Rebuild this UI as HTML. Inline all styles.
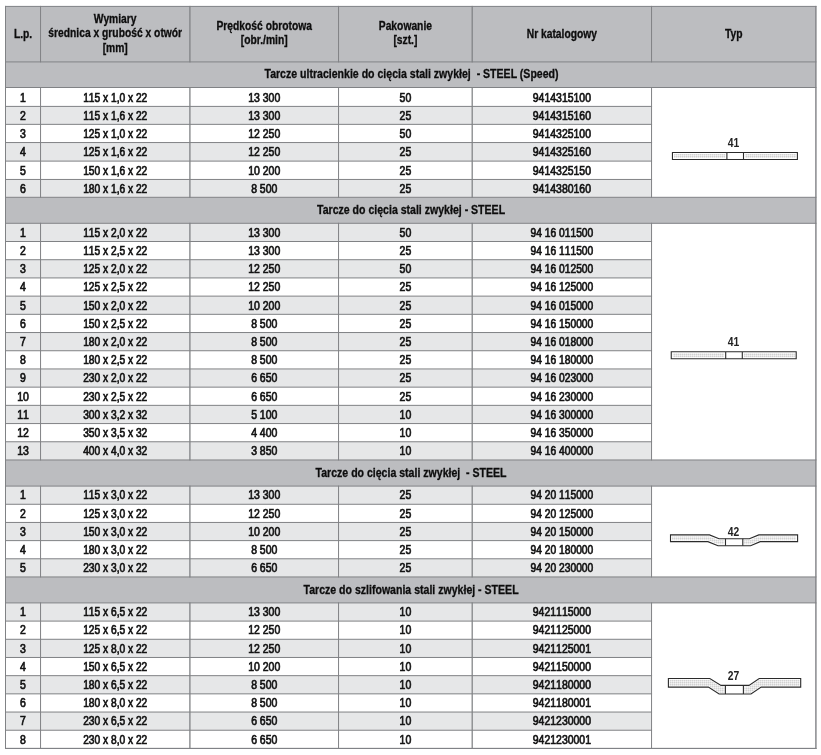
<!DOCTYPE html>
<html lang="pl">
<head>
<meta charset="utf-8">
<title>Tarcze - STEEL</title>
<style>
html,body{margin:0;padding:0;background:#fff;}
body{width:821px;height:755px;overflow:hidden;font-family:"Liberation Sans",sans-serif;}
svg{display:block;position:absolute;left:0;top:0;}
text{font-family:"Liberation Sans",sans-serif;font-size:12px;text-anchor:middle;fill:#141414;white-space:pre;}
text.h{font-weight:bold;fill:#0d0d0d;stroke:#0d0d0d;stroke-width:0.3px;}
text.d{stroke:#141414;stroke-width:0.7px;font-kerning:none;}
text.t{fill:#222;font-weight:bold;font-kerning:none;}
.b{fill:#808285;}
</style>
</head>
<body>
<svg width="821" height="755" viewBox="0 0 821 755" role="img" aria-label="Tabela tarcz">
<defs>
<pattern id="dots" width="2" height="2" patternUnits="userSpaceOnUse"><rect width="2" height="2" fill="#e6e6e6"/><rect width="1" height="1" fill="#d2d2d2"/><rect x="1" y="1" width="1" height="1" fill="#f4f4f4"/></pattern>
</defs>
<rect x="5.5" y="6.4" width="810.4" height="742.02" fill="#fff"/>
<rect x="5.5" y="6.4" width="810.4" height="55.5" fill="#bcbdc0"/>
<rect x="5.5" y="61.9" width="810.4" height="25.6" fill="#bcbdc0"/>
<rect x="5.5" y="106.4" width="646.05" height="17.95" fill="#e6e7e8"/>
<rect x="5.5" y="142.55" width="646.05" height="18.55" fill="#e6e7e8"/>
<rect x="5.5" y="179.45" width="646.05" height="17.85" fill="#e6e7e8"/>
<rect x="5.5" y="197.3" width="810.4" height="26" fill="#bcbdc0"/>
<rect x="5.5" y="223.3" width="646.05" height="18.2" fill="#e6e7e8"/>
<rect x="5.5" y="259.71" width="646.05" height="18.2" fill="#e6e7e8"/>
<rect x="5.5" y="296.12" width="646.05" height="18.2" fill="#e6e7e8"/>
<rect x="5.5" y="332.53" width="646.05" height="18.21" fill="#e6e7e8"/>
<rect x="5.5" y="368.94" width="646.05" height="18.2" fill="#e6e7e8"/>
<rect x="5.5" y="405.35" width="646.05" height="18.2" fill="#e6e7e8"/>
<rect x="5.5" y="441.76" width="646.05" height="18.2" fill="#e6e7e8"/>
<rect x="5.5" y="460" width="810.4" height="26.1" fill="#bcbdc0"/>
<rect x="5.5" y="486.1" width="646.05" height="18.17" fill="#e6e7e8"/>
<rect x="5.5" y="522.44" width="646.05" height="18.17" fill="#e6e7e8"/>
<rect x="5.5" y="558.78" width="646.05" height="18.17" fill="#e6e7e8"/>
<rect x="5.5" y="576.95" width="810.4" height="25.95" fill="#bcbdc0"/>
<rect x="5.5" y="602.9" width="646.05" height="18.19" fill="#e6e7e8"/>
<rect x="5.5" y="639.28" width="646.05" height="18.19" fill="#e6e7e8"/>
<rect x="5.5" y="675.66" width="646.05" height="18.19" fill="#e6e7e8"/>
<rect x="5.5" y="712.04" width="646.05" height="18.19" fill="#e6e7e8"/>
<rect class="b" x="5" y="5.9" width="811.4" height="1"/>
<rect class="b" x="5" y="61.4" width="811.4" height="1"/>
<rect class="b" x="5" y="747.92" width="811.4" height="1"/>
<rect class="b" x="40.05" y="5.9" width="1" height="56.5"/>
<rect class="b" x="189.25" y="5.9" width="1.3" height="56.5"/>
<rect class="b" x="338.05" y="5.9" width="1" height="56.5"/>
<rect class="b" x="471.57" y="5.9" width="1.25" height="56.5"/>
<rect class="b" x="651.05" y="5.9" width="1" height="56.5"/>
<rect class="b" x="5" y="5.9" width="1" height="743.02"/>
<rect class="b" x="815.2" y="5.9" width="1.4" height="743.02"/>
<rect class="b" x="5" y="87" width="811.4" height="1"/>
<rect class="b" x="5" y="105.9" width="647.05" height="1"/>
<rect class="b" x="5" y="123.85" width="647.05" height="1"/>
<rect class="b" x="5" y="142.05" width="647.05" height="1"/>
<rect class="b" x="5" y="160.6" width="647.05" height="1"/>
<rect class="b" x="5" y="178.95" width="647.05" height="1"/>
<rect class="b" x="5" y="196.8" width="811.4" height="1"/>
<rect class="b" x="40.05" y="87" width="1" height="110.8"/>
<rect class="b" x="189.25" y="87" width="1.3" height="110.8"/>
<rect class="b" x="338.05" y="87" width="1" height="110.8"/>
<rect class="b" x="471.57" y="87" width="1.25" height="110.8"/>
<rect class="b" x="651.05" y="87" width="1" height="110.8"/>
<rect class="b" x="5" y="222.8" width="811.4" height="1"/>
<rect class="b" x="5" y="241" width="647.05" height="1"/>
<rect class="b" x="5" y="259.21" width="647.05" height="1"/>
<rect class="b" x="5" y="277.42" width="647.05" height="1"/>
<rect class="b" x="5" y="295.62" width="647.05" height="1"/>
<rect class="b" x="5" y="313.82" width="647.05" height="1"/>
<rect class="b" x="5" y="332.03" width="647.05" height="1"/>
<rect class="b" x="5" y="350.24" width="647.05" height="1"/>
<rect class="b" x="5" y="368.44" width="647.05" height="1"/>
<rect class="b" x="5" y="386.64" width="647.05" height="1"/>
<rect class="b" x="5" y="404.85" width="647.05" height="1"/>
<rect class="b" x="5" y="423.06" width="647.05" height="1"/>
<rect class="b" x="5" y="441.26" width="647.05" height="1"/>
<rect class="b" x="5" y="459.46" width="811.4" height="1"/>
<rect class="b" x="40.05" y="222.8" width="1" height="237.66"/>
<rect class="b" x="189.25" y="222.8" width="1.3" height="237.66"/>
<rect class="b" x="338.05" y="222.8" width="1" height="237.66"/>
<rect class="b" x="471.57" y="222.8" width="1.25" height="237.66"/>
<rect class="b" x="651.05" y="222.8" width="1" height="237.66"/>
<rect class="b" x="5" y="485.6" width="811.4" height="1"/>
<rect class="b" x="5" y="503.77" width="647.05" height="1"/>
<rect class="b" x="5" y="521.94" width="647.05" height="1"/>
<rect class="b" x="5" y="540.11" width="647.05" height="1"/>
<rect class="b" x="5" y="558.28" width="647.05" height="1"/>
<rect class="b" x="5" y="576.45" width="811.4" height="1"/>
<rect class="b" x="40.05" y="485.6" width="1" height="91.85"/>
<rect class="b" x="189.25" y="485.6" width="1.3" height="91.85"/>
<rect class="b" x="338.05" y="485.6" width="1" height="91.85"/>
<rect class="b" x="471.57" y="485.6" width="1.25" height="91.85"/>
<rect class="b" x="651.05" y="485.6" width="1" height="91.85"/>
<rect class="b" x="5" y="602.4" width="811.4" height="1"/>
<rect class="b" x="5" y="620.59" width="647.05" height="1"/>
<rect class="b" x="5" y="638.78" width="647.05" height="1"/>
<rect class="b" x="5" y="656.97" width="647.05" height="1"/>
<rect class="b" x="5" y="675.16" width="647.05" height="1"/>
<rect class="b" x="5" y="693.35" width="647.05" height="1"/>
<rect class="b" x="5" y="711.54" width="647.05" height="1"/>
<rect class="b" x="5" y="729.73" width="647.05" height="1"/>
<rect class="b" x="5" y="747.92" width="811.4" height="1"/>
<rect class="b" x="40.05" y="602.4" width="1" height="146.52"/>
<rect class="b" x="189.25" y="602.4" width="1.3" height="146.52"/>
<rect class="b" x="338.05" y="602.4" width="1" height="146.52"/>
<rect class="b" x="471.57" y="602.4" width="1.25" height="146.52"/>
<rect class="b" x="651.05" y="602.4" width="1" height="146.52"/>
<text class="h" transform="translate(23.02 37.55) scale(0.858 1)">L.p.</text>
<text class="h" transform="translate(115.22 22.8) scale(0.858 1)">Wymiary</text>
<text class="h" transform="translate(115.22 37.4) scale(0.858 1)">średnica x grubość x otwór</text>
<text class="h" transform="translate(115.22 52) scale(0.858 1)">[mm]</text>
<text class="h" transform="translate(264.23 29.7) scale(0.858 1)">Prędkość obrotowa</text>
<text class="h" transform="translate(264.23 44) scale(0.858 1)">[obr./min]</text>
<text class="h" transform="translate(405.38 29.7) scale(0.858 1)">Pakowanie</text>
<text class="h" transform="translate(405.38 44) scale(0.858 1)">[szt.]</text>
<text class="h" transform="translate(561.88 37.55) scale(0.858 1)">Nr katalogowy</text>
<text class="h" transform="translate(733.72 37.55) scale(0.858 1)">Typ</text>
<text class="h" transform="translate(411.5 78.4) scale(0.88 1)">Tarcze ultracienkie do cięcia stali zwykłej  - STEEL (Speed)</text>
<text class="d" transform="translate(23.02 102) scale(0.875 1)">1</text>
<text class="d" transform="translate(115.22 102) scale(0.852 1)">115 x 1,0 x 22</text>
<text class="d" transform="translate(264.23 102) scale(0.873 1)">13 300</text>
<text class="d" transform="translate(405.38 102) scale(0.875 1)">50</text>
<text class="d" transform="translate(561.88 102) scale(0.872 1)">9414315100</text>
<text class="d" transform="translate(23.02 119.67) scale(0.875 1)">2</text>
<text class="d" transform="translate(115.22 119.67) scale(0.852 1)">115 x 1,6 x 22</text>
<text class="d" transform="translate(264.23 119.67) scale(0.873 1)">13 300</text>
<text class="d" transform="translate(405.38 119.67) scale(0.875 1)">25</text>
<text class="d" transform="translate(561.88 119.67) scale(0.872 1)">9414315160</text>
<text class="d" transform="translate(23.02 137.75) scale(0.875 1)">3</text>
<text class="d" transform="translate(115.22 137.75) scale(0.852 1)">125 x 1,0 x 22</text>
<text class="d" transform="translate(264.23 137.75) scale(0.873 1)">12 250</text>
<text class="d" transform="translate(405.38 137.75) scale(0.875 1)">50</text>
<text class="d" transform="translate(561.88 137.75) scale(0.872 1)">9414325100</text>
<text class="d" transform="translate(23.02 156.12) scale(0.875 1)">4</text>
<text class="d" transform="translate(115.22 156.12) scale(0.852 1)">125 x 1,6 x 22</text>
<text class="d" transform="translate(264.23 156.12) scale(0.873 1)">12 250</text>
<text class="d" transform="translate(405.38 156.12) scale(0.875 1)">25</text>
<text class="d" transform="translate(561.88 156.12) scale(0.872 1)">9414325160</text>
<text class="d" transform="translate(23.02 174.57) scale(0.875 1)">5</text>
<text class="d" transform="translate(115.22 174.57) scale(0.852 1)">150 x 1,6 x 22</text>
<text class="d" transform="translate(264.23 174.57) scale(0.873 1)">10 200</text>
<text class="d" transform="translate(405.38 174.57) scale(0.875 1)">25</text>
<text class="d" transform="translate(561.88 174.57) scale(0.872 1)">9414325150</text>
<text class="d" transform="translate(23.02 192.68) scale(0.875 1)">6</text>
<text class="d" transform="translate(115.22 192.68) scale(0.852 1)">180 x 1,6 x 22</text>
<text class="d" transform="translate(264.23 192.68) scale(0.873 1)">8 500</text>
<text class="d" transform="translate(405.38 192.68) scale(0.875 1)">25</text>
<text class="d" transform="translate(561.88 192.68) scale(0.872 1)">9414380160</text>
<text class="t" transform="translate(733.4 146.7) scale(0.86 1)">41</text>
<rect x="672.45" y="152.55" width="124.95" height="7" fill="#fff"/>
<rect x="674.05" y="154.05" width="51.15" height="3.9" fill="url(#dots)"/>
<rect x="745.1" y="154.05" width="50.9" height="3.9" fill="url(#dots)"/>
<path d="M672.45 152.55H797.4V159.55H672.45Z M726.9 152.55V159.55 M743.5 152.55V159.55" fill="none" stroke="#2b2b2b" stroke-width="1.1" stroke-linejoin="miter"/>
<text class="h" transform="translate(411.05 214) scale(0.88 1)">Tarcze do cięcia stali zwykłej - STEEL</text>
<text class="d" transform="translate(23.02 236.7) scale(0.875 1)">1</text>
<text class="d" transform="translate(115.22 236.7) scale(0.852 1)">115 x 2,0 x 22</text>
<text class="d" transform="translate(264.23 236.7) scale(0.873 1)">13 300</text>
<text class="d" transform="translate(405.38 236.7) scale(0.875 1)">50</text>
<text class="d" transform="translate(561.88 236.7) scale(0.855 1)">94 16 011500</text>
<text class="d" transform="translate(23.02 254.91) scale(0.875 1)">2</text>
<text class="d" transform="translate(115.22 254.91) scale(0.852 1)">115 x 2,5 x 22</text>
<text class="d" transform="translate(264.23 254.91) scale(0.873 1)">13 300</text>
<text class="d" transform="translate(405.38 254.91) scale(0.875 1)">25</text>
<text class="d" transform="translate(561.88 254.91) scale(0.855 1)">94 16 111500</text>
<text class="d" transform="translate(23.02 273.11) scale(0.875 1)">3</text>
<text class="d" transform="translate(115.22 273.11) scale(0.852 1)">125 x 2,0 x 22</text>
<text class="d" transform="translate(264.23 273.11) scale(0.873 1)">12 250</text>
<text class="d" transform="translate(405.38 273.11) scale(0.875 1)">50</text>
<text class="d" transform="translate(561.88 273.11) scale(0.855 1)">94 16 012500</text>
<text class="d" transform="translate(23.02 291.32) scale(0.875 1)">4</text>
<text class="d" transform="translate(115.22 291.32) scale(0.852 1)">125 x 2,5 x 22</text>
<text class="d" transform="translate(264.23 291.32) scale(0.873 1)">12 250</text>
<text class="d" transform="translate(405.38 291.32) scale(0.875 1)">25</text>
<text class="d" transform="translate(561.88 291.32) scale(0.855 1)">94 16 125000</text>
<text class="d" transform="translate(23.02 309.52) scale(0.875 1)">5</text>
<text class="d" transform="translate(115.22 309.52) scale(0.852 1)">150 x 2,0 x 22</text>
<text class="d" transform="translate(264.23 309.52) scale(0.873 1)">10 200</text>
<text class="d" transform="translate(405.38 309.52) scale(0.875 1)">25</text>
<text class="d" transform="translate(561.88 309.52) scale(0.855 1)">94 16 015000</text>
<text class="d" transform="translate(23.02 327.73) scale(0.875 1)">6</text>
<text class="d" transform="translate(115.22 327.73) scale(0.852 1)">150 x 2,5 x 22</text>
<text class="d" transform="translate(264.23 327.73) scale(0.873 1)">8 500</text>
<text class="d" transform="translate(405.38 327.73) scale(0.875 1)">25</text>
<text class="d" transform="translate(561.88 327.73) scale(0.855 1)">94 16 150000</text>
<text class="d" transform="translate(23.02 345.93) scale(0.875 1)">7</text>
<text class="d" transform="translate(115.22 345.93) scale(0.852 1)">180 x 2,0 x 22</text>
<text class="d" transform="translate(264.23 345.93) scale(0.873 1)">8 500</text>
<text class="d" transform="translate(405.38 345.93) scale(0.875 1)">25</text>
<text class="d" transform="translate(561.88 345.93) scale(0.855 1)">94 16 018000</text>
<text class="d" transform="translate(23.02 364.14) scale(0.875 1)">8</text>
<text class="d" transform="translate(115.22 364.14) scale(0.852 1)">180 x 2,5 x 22</text>
<text class="d" transform="translate(264.23 364.14) scale(0.873 1)">8 500</text>
<text class="d" transform="translate(405.38 364.14) scale(0.875 1)">25</text>
<text class="d" transform="translate(561.88 364.14) scale(0.855 1)">94 16 180000</text>
<text class="d" transform="translate(23.02 382.34) scale(0.875 1)">9</text>
<text class="d" transform="translate(115.22 382.34) scale(0.852 1)">230 x 2,0 x 22</text>
<text class="d" transform="translate(264.23 382.34) scale(0.873 1)">6 650</text>
<text class="d" transform="translate(405.38 382.34) scale(0.875 1)">25</text>
<text class="d" transform="translate(561.88 382.34) scale(0.855 1)">94 16 023000</text>
<text class="d" transform="translate(23.02 400.55) scale(0.875 1)">10</text>
<text class="d" transform="translate(115.22 400.55) scale(0.852 1)">230 x 2,5 x 22</text>
<text class="d" transform="translate(264.23 400.55) scale(0.873 1)">6 650</text>
<text class="d" transform="translate(405.38 400.55) scale(0.875 1)">25</text>
<text class="d" transform="translate(561.88 400.55) scale(0.855 1)">94 16 230000</text>
<text class="d" transform="translate(23.02 418.75) scale(0.875 1)">11</text>
<text class="d" transform="translate(115.22 418.75) scale(0.852 1)">300 x 3,2 x 32</text>
<text class="d" transform="translate(264.23 418.75) scale(0.873 1)">5 100</text>
<text class="d" transform="translate(405.38 418.75) scale(0.875 1)">10</text>
<text class="d" transform="translate(561.88 418.75) scale(0.855 1)">94 16 300000</text>
<text class="d" transform="translate(23.02 436.96) scale(0.875 1)">12</text>
<text class="d" transform="translate(115.22 436.96) scale(0.852 1)">350 x 3,5 x 32</text>
<text class="d" transform="translate(264.23 436.96) scale(0.873 1)">4 400</text>
<text class="d" transform="translate(405.38 436.96) scale(0.875 1)">10</text>
<text class="d" transform="translate(561.88 436.96) scale(0.855 1)">94 16 350000</text>
<text class="d" transform="translate(23.02 455.16) scale(0.875 1)">13</text>
<text class="d" transform="translate(115.22 455.16) scale(0.852 1)">400 x 4,0 x 32</text>
<text class="d" transform="translate(264.23 455.16) scale(0.873 1)">3 850</text>
<text class="d" transform="translate(405.38 455.16) scale(0.875 1)">10</text>
<text class="d" transform="translate(561.88 455.16) scale(0.855 1)">94 16 400000</text>
<text class="t" transform="translate(733.4 345.93) scale(0.86 1)">41</text>
<rect x="671.25" y="351.78" width="124.95" height="7" fill="#fff"/>
<rect x="672.85" y="353.28" width="51.15" height="3.9" fill="url(#dots)"/>
<rect x="743.9" y="353.28" width="50.9" height="3.9" fill="url(#dots)"/>
<path d="M671.25 351.78H796.2V358.78H671.25Z M725.7 351.78V358.78 M742.3 351.78V358.78" fill="none" stroke="#2b2b2b" stroke-width="1.1" stroke-linejoin="miter"/>
<text class="h" transform="translate(411.05 476.75) scale(0.88 1)">Tarcze do cięcia stali zwykłej  - STEEL</text>
<text class="d" transform="translate(23.02 499.49) scale(0.875 1)">1</text>
<text class="d" transform="translate(115.22 499.49) scale(0.852 1)">115 x 3,0 x 22</text>
<text class="d" transform="translate(264.23 499.49) scale(0.873 1)">13 300</text>
<text class="d" transform="translate(405.38 499.49) scale(0.875 1)">25</text>
<text class="d" transform="translate(561.88 499.49) scale(0.855 1)">94 20 115000</text>
<text class="d" transform="translate(23.02 517.65) scale(0.875 1)">2</text>
<text class="d" transform="translate(115.22 517.65) scale(0.852 1)">125 x 3,0 x 22</text>
<text class="d" transform="translate(264.23 517.65) scale(0.873 1)">12 250</text>
<text class="d" transform="translate(405.38 517.65) scale(0.875 1)">25</text>
<text class="d" transform="translate(561.88 517.65) scale(0.855 1)">94 20 125000</text>
<text class="d" transform="translate(23.02 535.83) scale(0.875 1)">3</text>
<text class="d" transform="translate(115.22 535.83) scale(0.852 1)">150 x 3,0 x 22</text>
<text class="d" transform="translate(264.23 535.83) scale(0.873 1)">10 200</text>
<text class="d" transform="translate(405.38 535.83) scale(0.875 1)">25</text>
<text class="d" transform="translate(561.88 535.83) scale(0.855 1)">94 20 150000</text>
<text class="d" transform="translate(23.02 553.99) scale(0.875 1)">4</text>
<text class="d" transform="translate(115.22 553.99) scale(0.852 1)">180 x 3,0 x 22</text>
<text class="d" transform="translate(264.23 553.99) scale(0.873 1)">8 500</text>
<text class="d" transform="translate(405.38 553.99) scale(0.875 1)">25</text>
<text class="d" transform="translate(561.88 553.99) scale(0.855 1)">94 20 180000</text>
<text class="d" transform="translate(23.02 572.16) scale(0.875 1)">5</text>
<text class="d" transform="translate(115.22 572.16) scale(0.852 1)">230 x 3,0 x 22</text>
<text class="d" transform="translate(264.23 572.16) scale(0.873 1)">6 650</text>
<text class="d" transform="translate(405.38 572.16) scale(0.875 1)">25</text>
<text class="d" transform="translate(561.88 572.16) scale(0.855 1)">94 20 230000</text>
<text class="t" transform="translate(733.4 535.83) scale(0.86 1)">42</text>
<polygon points="670.5,534.88 709.5,534.88 719,538.73 749.4,538.73 758.8,534.88 797.6,534.88 797.6,541.63 760.2,541.63 750.6,545.78 718,545.78 707.9,541.63 670.5,541.63" fill="url(#dots)" stroke="#fff" stroke-width="3.0"/>
<rect x="724.2" y="538.73" width="19.9" height="7.05" fill="#fff"/>
<polygon points="670.5,534.88 709.5,534.88 719,538.73 749.4,538.73 758.8,534.88 797.6,534.88 797.6,541.63 760.2,541.63 750.6,545.78 718,545.78 707.9,541.63 670.5,541.63" fill="none" stroke="#2b2b2b" stroke-width="1.1" stroke-linejoin="miter"/>
<path d="M725.5 538.73V545.78 M742.8 538.73V545.78" fill="none" stroke="#2b2b2b" stroke-width="1.1" stroke-linejoin="miter"/>
<text class="h" transform="translate(411.05 593.62) scale(0.88 1)">Tarcze do szlifowania stali zwykłej - STEEL</text>
<text class="d" transform="translate(23.02 616.29) scale(0.875 1)">1</text>
<text class="d" transform="translate(115.22 616.29) scale(0.852 1)">115 x 6,5 x 22</text>
<text class="d" transform="translate(264.23 616.29) scale(0.873 1)">13 300</text>
<text class="d" transform="translate(405.38 616.29) scale(0.875 1)">10</text>
<text class="d" transform="translate(561.88 616.29) scale(0.872 1)">9421115000</text>
<text class="d" transform="translate(23.02 634.48) scale(0.875 1)">2</text>
<text class="d" transform="translate(115.22 634.48) scale(0.852 1)">125 x 6,5 x 22</text>
<text class="d" transform="translate(264.23 634.48) scale(0.873 1)">12 250</text>
<text class="d" transform="translate(405.38 634.48) scale(0.875 1)">10</text>
<text class="d" transform="translate(561.88 634.48) scale(0.872 1)">9421125000</text>
<text class="d" transform="translate(23.02 652.67) scale(0.875 1)">3</text>
<text class="d" transform="translate(115.22 652.67) scale(0.852 1)">125 x 8,0 x 22</text>
<text class="d" transform="translate(264.23 652.67) scale(0.873 1)">12 250</text>
<text class="d" transform="translate(405.38 652.67) scale(0.875 1)">10</text>
<text class="d" transform="translate(561.88 652.67) scale(0.872 1)">9421125001</text>
<text class="d" transform="translate(23.02 670.87) scale(0.875 1)">4</text>
<text class="d" transform="translate(115.22 670.87) scale(0.852 1)">150 x 6,5 x 22</text>
<text class="d" transform="translate(264.23 670.87) scale(0.873 1)">10 200</text>
<text class="d" transform="translate(405.38 670.87) scale(0.875 1)">10</text>
<text class="d" transform="translate(561.88 670.87) scale(0.872 1)">9421150000</text>
<text class="d" transform="translate(23.02 689.05) scale(0.875 1)">5</text>
<text class="d" transform="translate(115.22 689.05) scale(0.852 1)">180 x 6,5 x 22</text>
<text class="d" transform="translate(264.23 689.05) scale(0.873 1)">8 500</text>
<text class="d" transform="translate(405.38 689.05) scale(0.875 1)">10</text>
<text class="d" transform="translate(561.88 689.05) scale(0.872 1)">9421180000</text>
<text class="d" transform="translate(23.02 707.24) scale(0.875 1)">6</text>
<text class="d" transform="translate(115.22 707.24) scale(0.852 1)">180 x 8,0 x 22</text>
<text class="d" transform="translate(264.23 707.24) scale(0.873 1)">8 500</text>
<text class="d" transform="translate(405.38 707.24) scale(0.875 1)">10</text>
<text class="d" transform="translate(561.88 707.24) scale(0.872 1)">9421180001</text>
<text class="d" transform="translate(23.02 725.43) scale(0.875 1)">7</text>
<text class="d" transform="translate(115.22 725.43) scale(0.852 1)">230 x 6,5 x 22</text>
<text class="d" transform="translate(264.23 725.43) scale(0.873 1)">6 650</text>
<text class="d" transform="translate(405.38 725.43) scale(0.875 1)">10</text>
<text class="d" transform="translate(561.88 725.43) scale(0.872 1)">9421230000</text>
<text class="d" transform="translate(23.02 743.62) scale(0.875 1)">8</text>
<text class="d" transform="translate(115.22 743.62) scale(0.852 1)">230 x 8,0 x 22</text>
<text class="d" transform="translate(264.23 743.62) scale(0.873 1)">6 650</text>
<text class="d" transform="translate(405.38 743.62) scale(0.875 1)">10</text>
<text class="d" transform="translate(561.88 743.62) scale(0.872 1)">9421230001</text>
<text class="t" transform="translate(733.4 679.96) scale(0.86 1)">27</text>
<polygon points="668.4,678.56 709.8,678.56 721,685.36 749,685.36 759.2,678.56 800.7,678.56 800.7,687.16 761.2,687.16 751,693.96 719.1,693.96 708.4,687.16 668.4,687.16" fill="url(#dots)" stroke="#fff" stroke-width="2.3"/>
<rect x="724.45" y="685.36" width="19.9" height="8.6" fill="#fff"/>
<polygon points="668.4,678.56 709.8,678.56 721,685.36 749,685.36 759.2,678.56 800.7,678.56 800.7,687.16 761.2,687.16 751,693.96 719.1,693.96 708.4,687.16 668.4,687.16" fill="none" stroke="#2b2b2b" stroke-width="1.1" stroke-linejoin="miter"/>
<path d="M725.4 685.36V693.96 M743.4 685.36V693.96" fill="none" stroke="#2b2b2b" stroke-width="1.1" stroke-linejoin="miter"/>
</svg>
</body>
</html>
